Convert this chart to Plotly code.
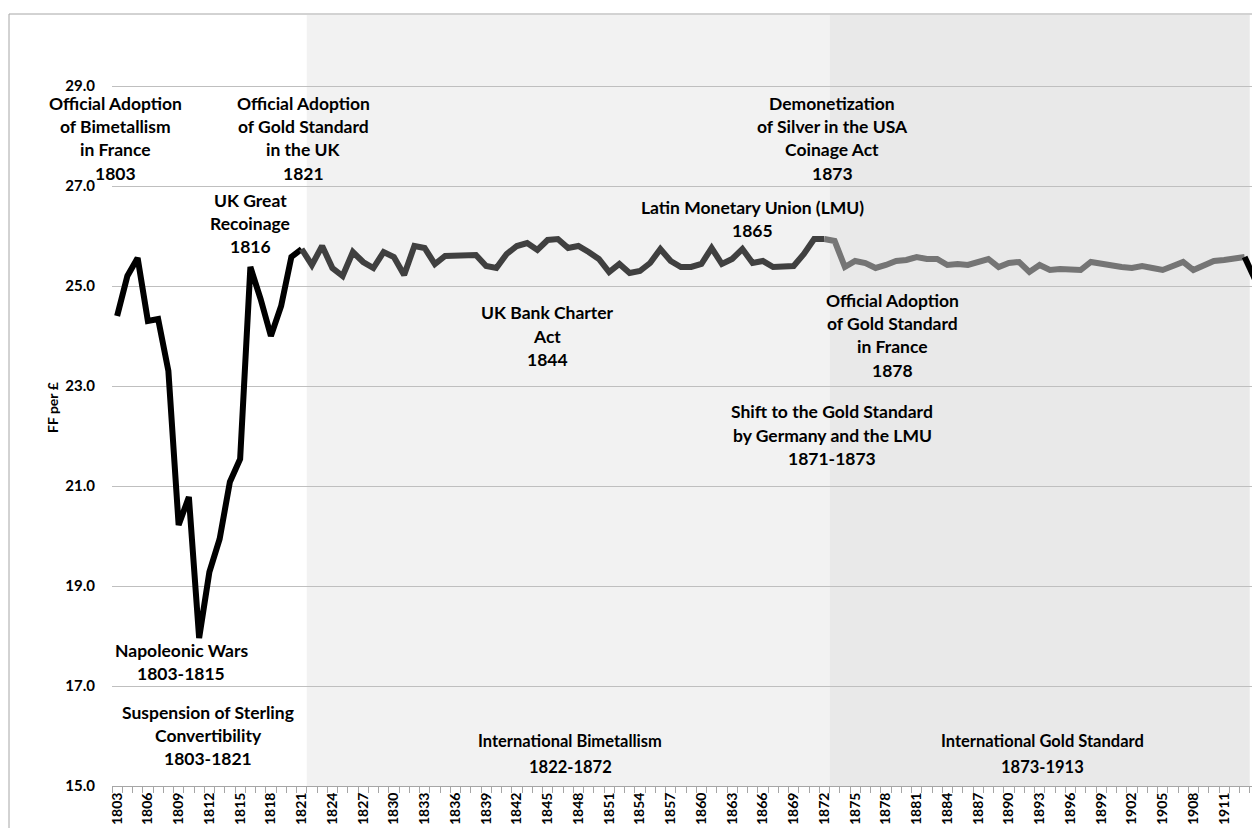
import plotly.graph_objects as go

# ---------------- data ----------------
years = list(range(1803, 1915))
ff_per_gbp = [
    24.40, 25.20, 25.56, 24.30, 24.34, 23.30, 20.22, 20.78, 17.96, 19.28,   # 1803-1812
    19.94, 21.08, 21.54, 25.38, 24.74, 24.00, 24.60, 25.58, 25.74, 25.42,   # 1813-1822
    25.80, 25.36, 25.20, 25.68, 25.48, 25.36, 25.68, 25.58, 25.22, 25.80,   # 1823-1832
    25.76, 25.44, 25.60, 25.60, 25.60, 25.62, 25.40, 25.36, 25.64, 25.80,   # 1833-1842
    25.86, 25.72, 25.92, 25.94, 25.76, 25.80, 25.68, 25.54, 25.28, 25.44,   # 1843-1852
    25.26, 25.30, 25.46, 25.74, 25.50, 25.38, 25.38, 25.44, 25.76, 25.44,   # 1853-1862
    25.54, 25.74, 25.46, 25.50, 25.38, 25.38, 25.40, 25.64, 25.94, 25.94,   # 1863-1872
    25.90, 25.38, 25.50, 25.46, 25.36, 25.42, 25.50, 25.52, 25.58, 25.54,   # 1873-1882
    25.54, 25.42, 25.44, 25.42, 25.48, 25.54, 25.38, 25.46, 25.48, 25.28,   # 1883-1892
    25.42, 25.32, 25.34, 25.34, 25.32, 25.48, 25.44, 25.42, 25.38, 25.36,   # 1893-1902
    25.40, 25.36, 25.32, 25.40, 25.48, 25.32, 25.40, 25.50, 25.52, 25.54,   # 1903-1912
    25.58, 25.14,                                                           # 1913-1914
]

# regime periods (first year, last year)
period_suspension = (1803, 1821)
period_bimetallism = (1822, 1872)
period_gold = (1873, 1913)

tick_years = list(range(1803, 1915, 3))
y_ticks = [15.0, 17.0, 19.0, 21.0, 23.0, 25.0, 27.0, 29.0]

FONT = "Lato"

# ---------------- figure ----------------
fig = go.Figure()


def seg(y0, y1):
    xs = [y for y in years if y0 <= y <= y1]
    vs = [ff_per_gbp[years.index(y)] for y in xs]
    return xs, vs


segments = [
    (period_suspension[0], period_suspension[1], "#000000"),
    (period_suspension[1], period_bimetallism[1], "#404040"),
    (period_bimetallism[1], period_gold[1], "#757575"),
    (period_gold[1], years[-1], "#000000"),
]
for a, b, col in segments:
    xs, vs = seg(a, b)
    fig.add_trace(go.Scatter(x=xs, y=vs, mode="lines",
                             line=dict(color=col, width=6),
                             hoverinfo="skip", showlegend=False))

# shaded regimes
fig.add_shape(type="rect", xref="x", yref="paper",
              x0=period_bimetallism[0] - 0.5, x1=period_bimetallism[1] + 0.5,
              y0=0, y1=1, fillcolor="#f2f2f2", line_width=0, layer="below")
fig.add_shape(type="rect", xref="x", yref="paper",
              x0=period_gold[0] - 0.5, x1=period_gold[1] + 0.5,
              y0=0, y1=1, fillcolor="#e9e9e9", line_width=0, layer="below")

# ---------------- layout geometry ----------------
OFF = 8                      # page body margin
W, H = 1252, 820
L, R, T, B = 104, 0, 7, 42
plot_w = W - L - R
plot_h = H - T - B


def px_to_paper(px, py):
    # screen pixel -> paper coordinate
    return (px - OFF - L) / plot_w, (OFF + T + plot_h - py) / plot_h


# outer chart border
bx0, by1 = px_to_paper(9, 14)
bx1, by0 = px_to_paper(1300, 860)
fig.add_shape(type="rect", xref="paper", yref="paper",
              x0=bx0, x1=bx1, y0=by0, y1=by1,
              line=dict(color="#a6a6a6", width=1), fillcolor="rgba(0,0,0,0)")


def label(lines, cx, first_y, spacing=23.4, size=17.5, family=FONT):
    for i, t in enumerate(lines):
        xp, yp = px_to_paper(cx, first_y + i * spacing)
        fig.add_annotation(x=xp, y=yp, xref="paper", yref="paper",
                           text="<b>%s</b>" % t, showarrow=False,
                           xanchor="center", yanchor="middle",
                           font=dict(family=family, size=size, color="#000000"))


label(["Official Adoption", "of Bimetallism", "in France", "1803"], 115, 103)
label(["Official Adoption", "of Gold Standard", "in the UK", "1821"], 303, 103)
label(["UK Great", "Recoinage", "1816"], 250, 200)
label(["Demonetization", "of Silver in the USA", "Coinage Act", "1873"], 832, 103)
label(["Latin Monetary Union (LMU)", "1865"], 752, 207)
label(["UK Bank Charter", "Act", "1844"], 547, 313)
label(["Official Adoption", "of Gold Standard", "in France", "1878"], 892, 300)
label(["Shift to the Gold Standard", "by Germany and the LMU", "1871-1873"], 832, 412)
label(["Napoleonic Wars", "1803-1815"], 181, 650)
label(["Suspension of Sterling", "Convertibility", "1803-1821"], 208, 712)
label(["International Bimetallism", "1822-1872"], 570, 741, spacing=26, size=16.5)
label(["International Gold Standard", "1873-1913"], 1042, 741, spacing=26, size=16.5)

# y-axis title
tx, ty = px_to_paper(52, 408)
fig.add_annotation(x=tx, y=ty, xref="paper", yref="paper", text="<b>FF per £</b>",
                   showarrow=False, textangle=-90, xanchor="center", yanchor="middle",
                   font=dict(family=FONT, size=14, color="#000000"))

fig.update_layout(
    width=W, height=H,
    margin=dict(l=L, r=R, t=T, b=B, pad=0, autoexpand=False),
    paper_bgcolor="white", plot_bgcolor="white",
    showlegend=False,
    xaxis=dict(
        automargin=False,
        range=[years[0] - 0.5, years[-1] + 0.5],
        tickmode="array", tickvals=tick_years,
        ticktext=["<b>%d</b>" % y for y in tick_years],
        tickangle=-90, ticks="",
        showgrid=False, zeroline=False,
        showline=True, linecolor="#a6a6a6", linewidth=1,
        tickfont=dict(family=FONT, size=14, color="#000000"),
        minor=dict(tick0=years[0] - 0.5, dtick=1, ticks="outside", ticklen=6,
                   tickcolor="#a6a6a6", tickwidth=1, showgrid=False),
    ),
    yaxis=dict(
        automargin=False,
        range=[15, 15 + plot_h / 50.0],
        tickmode="array", tickvals=y_ticks,
        ticktext=["<b>%.1f</b>" % v for v in y_ticks],
        showgrid=True, gridcolor="#bfbfbf", gridwidth=1,
        zeroline=False, showline=False,
        ticks="outside", ticklen=13, tickcolor="rgba(0,0,0,0)",
        tickfont=dict(family=FONT, size=15, color="#000000"),
    ),
)

fig.write_html("out.html")
